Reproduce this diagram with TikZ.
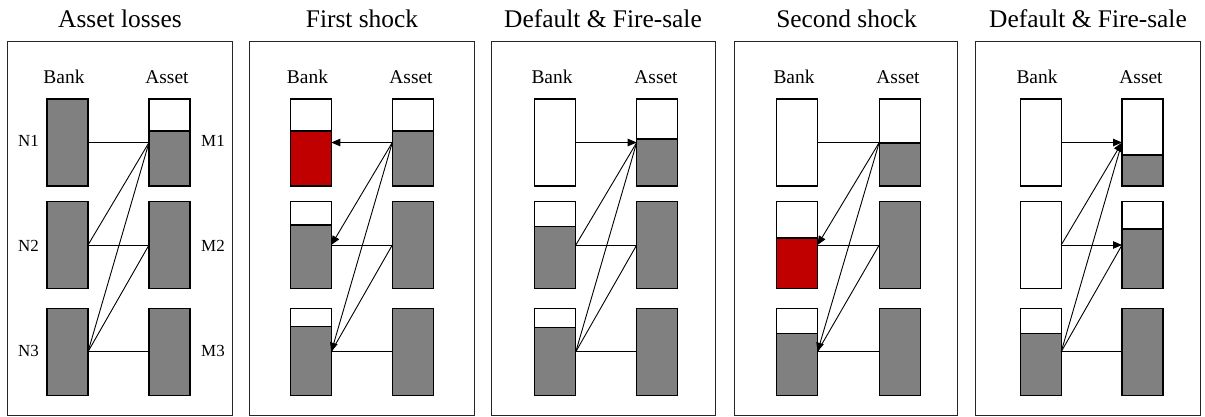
\documentclass[tikz,border=0pt]{standalone}
\usepackage{fontspec}
\setmainfont{Liberation Serif}
\usetikzlibrary{arrows.meta}
\definecolor{boxgray}{RGB}{128,128,128}
\definecolor{shockred}{RGB}{192,0,0}
\tikzset{
  bx/.style={draw=black, line width=1.2bp, fill=white, minimum width=41bp, minimum height=87bp, inner sep=0pt, outer sep=0pt},
  panelframe/.style={draw=black!85, line width=1bp},
  paneltitle/.style={font=\fontsize{25.5}{30}\selectfont, anchor=base, inner sep=0pt},
  colhead/.style={font=\fontsize{19.5}{23}\selectfont, anchor=base, inner sep=0pt},
  rowlab/.style={font=\fontsize{17}{20}\selectfont, inner sep=0pt},
  link/.style={draw=black, line width=0.9bp},
  arr/.style={link, -{Triangle[length=9bp,width=7.5bp]}},
}
% name, x, y, white height (bp), lower fill colour
\newcommand\stackbox[5]{%
  \node[bx, path picture={%
      \fill[#5] ([yshift=-#4bp]path picture bounding box.north west) rectangle (path picture bounding box.south east);
      \draw[line width=1.2bp] ([yshift=-#4bp]path picture bounding box.north west) -- ([yshift=-#4bp]path picture bounding box.north east);
    }] (#1) at (#2,#3) {};}
\begin{document}
\begin{tikzpicture}[x=1bp,y=-1bp]
\useasboundingbox (0,0) rectangle (1205,416);
% ---------- frames and titles ----------
\node[panelframe, draw, minimum width=224bp, minimum height=374bp, inner sep=0pt, outer sep=0pt] (f1) at (120,228) {};
\node[panelframe, draw, minimum width=225bp, minimum height=374bp, inner sep=0pt, outer sep=0pt] (f2) at (362,228) {};
\node[panelframe, draw, minimum width=224bp, minimum height=374bp, inner sep=0pt, outer sep=0pt] (f3) at (603,228) {};
\node[panelframe, draw, minimum width=223.5bp, minimum height=374bp, inner sep=0pt, outer sep=0pt] (f4) at (846,228) {};
\node[panelframe, draw, minimum width=224.5bp, minimum height=374bp, inner sep=0pt, outer sep=0pt] (f5) at (1088,228) {};
\node[paneltitle] (t1) at (120,27) {Asset losses};
\node[paneltitle] (t2) at (362,27) {First shock};
\node[paneltitle] (t3) at (603,27) {Default \& Fire-sale};
\node[paneltitle] (t4) at (846.5,27) {Second shock};
\node[paneltitle] (t5) at (1088,27) {Default \& Fire-sale};
% column heads
\node[colhead] (h1b) at (64,83) {Bank};   \node[colhead] (h1a) at (167,83) {Asset};
\node[colhead] (h2b) at (307.5,83) {Bank};\node[colhead] (h2a) at (411,83) {Asset};
\node[colhead] (h3b) at (552,83) {Bank};  \node[colhead] (h3a) at (656,83) {Asset};
\node[colhead] (h4b) at (794,83) {Bank};  \node[colhead] (h4a) at (898,83) {Asset};
\node[colhead] (h5b) at (1037,83) {Bank}; \node[colhead] (h5a) at (1141,83) {Asset};
% ---------- panel 1 ----------
\stackbox{a1n1}{67.5}{142.5}{0}{boxgray}
\stackbox{a1n2}{67.5}{245}{0}{boxgray}
\stackbox{a1n3}{67.5}{351.75}{0}{boxgray}
\stackbox{a1m1}{169.5}{142.5}{32}{boxgray}
\stackbox{a1m2}{169.5}{245}{0}{boxgray}
\stackbox{a1m3}{169.5}{351.75}{0}{boxgray}
\node[rowlab] (l1) at (28.5,141) {N1};
\node[rowlab] (l2) at (28.5,245.5) {N2};
\node[rowlab] (l3) at (28.5,351) {N3};
\node[rowlab] (l4) at (213,141) {M1};
\node[rowlab] (l5) at (213,245.5) {M2};
\node[rowlab] (l6) at (213,351) {M3};
\draw[link] (a1n1.east) -- (a1m1.west);
\draw[link] (a1n2.east) -- (a1m1.west);
\draw[link] (a1n2.east) -- (a1m2.west);
\draw[link] (a1n3.east) -- (a1m1.west);
\draw[link] (a1n3.east) -- (a1m2.west);
\draw[link] (a1n3.east) -- (a1m3.west);
% ---------- panel 2 ----------
\stackbox{a2n1}{310.8}{142.5}{32}{shockred}
\stackbox{a2n2}{310.8}{245}{23.5}{boxgray}
\stackbox{a2n3}{310.8}{351.75}{18.5}{boxgray}
\stackbox{a2m1}{412.8}{142.5}{32}{boxgray}
\stackbox{a2m2}{412.8}{245}{0}{boxgray}
\stackbox{a2m3}{412.8}{351.75}{0}{boxgray}
\draw[arr] (a2m1.west) -- (a2n1.east);
\draw[arr] (a2m1.west) -- (a2n2.east);
\draw[arr] (a2m1.west) -- (a2n3.east);
\draw[link] (a2m2.west) -- (a2n3.east);
\draw[link] (a2m2.west) -- (a2n2.east);
\draw[link] (a2m3.west) -- (a2n3.east);
% ---------- panel 3 ----------
\stackbox{a3n1}{555.3}{142.5}{0}{white}
\stackbox{a3n2}{555.3}{245}{25}{boxgray}
\stackbox{a3n3}{555.3}{351.75}{19}{boxgray}
\stackbox{a3m1}{657.2}{142.5}{40}{boxgray}
\stackbox{a3m2}{657.2}{245}{0}{boxgray}
\stackbox{a3m3}{657.2}{351.75}{0}{boxgray}
\draw[arr] (a3n1.east) -- (a3m1.west);
\draw[link] (a3n2.east) -- (a3m1.west);
\draw[link] (a3n2.east) -- (a3m2.west);
\draw[link] (a3n3.east) -- (a3m1.west);
\draw[link] (a3n3.east) -- (a3m2.west);
\draw[link] (a3n3.east) -- (a3m3.west);
% ---------- panel 4 ----------
\stackbox{a4n1}{797}{142.5}{0}{white}
\stackbox{a4n2}{797}{245}{36.5}{shockred}
\stackbox{a4n3}{797}{351.75}{25.5}{boxgray}
\stackbox{a4m1}{899.7}{142.5}{44}{boxgray}
\stackbox{a4m2}{899.7}{245}{0}{boxgray}
\stackbox{a4m3}{899.7}{351.75}{0}{boxgray}
\draw[link] (a4n1.east) -- (a4m1.west);
\draw[arr] (a4m1.west) -- (a4n2.east);
\draw[arr] (a4m1.west) -- (a4n3.east);
\draw[link] (a4m2.west) -- (a4n3.east);
\draw[link] (a4m2.west) -- (a4n2.east);
\draw[link] (a4m3.west) -- (a4n3.east);
% ---------- panel 5 ----------
\stackbox{a5n1}{1040.7}{142.5}{0}{white}
\stackbox{a5n2}{1040.7}{245}{0}{white}
\stackbox{a5n3}{1040.7}{351.75}{25.5}{boxgray}
\stackbox{a5m1}{1142.5}{142.5}{56}{boxgray}
\stackbox{a5m2}{1142.5}{245}{27.5}{boxgray}
\stackbox{a5m3}{1142.5}{351.75}{0}{boxgray}
\draw[arr] (a5n1.east) -- (a5m1.west);
\draw[arr] (a5n2.east) -- (a5m1.west);
\draw[arr] (a5n2.east) -- (a5m2.west);
\draw[link] (a5n3.east) -- (a5m1.west);
\draw[link] (a5n3.east) -- (a5m2.west);
\draw[link] (a5n3.east) -- (a5m3.west);
\end{tikzpicture}
\end{document}
